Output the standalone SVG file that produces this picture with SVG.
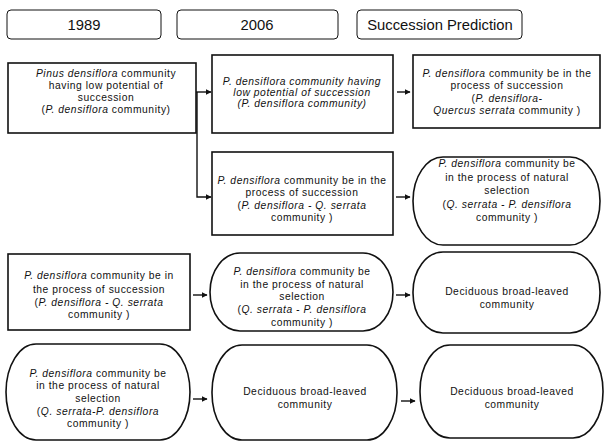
<svg xmlns="http://www.w3.org/2000/svg" width="606" height="443" viewBox="0 0 606 443">
<style>
.hdr{fill:#fff;stroke:#111;stroke-width:1}
.bx{fill:#fff;stroke:#111;stroke-width:1.6}
.ht{font-family:"Liberation Sans",Arial,sans-serif;font-size:14.8px;fill:#111;text-anchor:middle}
.t{font-family:"Liberation Sans",Arial,sans-serif;font-size:10.3px;letter-spacing:0.55px;fill:#111;text-anchor:middle}
.i{font-style:italic}
.c{fill:none;stroke:#111;stroke-width:1.4}
</style>
<defs>
<marker id="ah" viewBox="0 0 10 10" refX="9" refY="5" markerWidth="6" markerHeight="6" orient="auto" markerUnits="userSpaceOnUse">
<path d="M0,0 L10,5 L0,10 z" fill="#111"/>
</marker>
</defs>
<rect width="606" height="443" fill="#fff"/>

<g id="h1989"><rect class="hdr" x="7" y="10" width="154" height="29" rx="4"/><text class="ht" x="84" y="30">1989</text></g>
<g id="h2006"><rect class="hdr" x="177" y="10" width="161" height="29" rx="4"/><text class="ht" x="257" y="30">2006</text></g>
<g id="hpred"><rect class="hdr" x="357" y="10" width="165" height="29" rx="4"/><text class="ht" x="440" y="30">Succession Prediction</text></g>

<g id="connectors">
<line class="c" x1="196" y1="92" x2="211" y2="92" marker-end="url(#ah)"/>
<polyline class="c" points="197,92 197,197 211,197" marker-end="url(#ah)"/>
<line class="c" x1="397" y1="92" x2="410" y2="92" marker-end="url(#ah)"/>
<line class="c" x1="396" y1="197" x2="410" y2="197" marker-end="url(#ah)"/>
<line class="c" x1="193" y1="295" x2="207" y2="295" marker-end="url(#ah)"/>
<line class="c" x1="396" y1="295" x2="410" y2="295" marker-end="url(#ah)"/>
<line class="c" x1="193" y1="399" x2="207" y2="399" marker-end="url(#ah)"/>
<line class="c" x1="401" y1="401" x2="415" y2="401" marker-end="url(#ah)"/>
</g>

<g id="a1989">
<rect class="bx" x="8" y="63" width="188" height="70"/>
<text class="t" x="106" y="77"><tspan class="i">Pinus densiflora</tspan> community</text>
<text class="t" x="106" y="89">having low potential of</text>
<text class="t" x="106" y="101">succession</text>
<text class="t" x="106" y="113">(<tspan class="i">P. densiflora</tspan> community)</text>
</g>

<g id="b2006">
<rect class="bx" x="212" y="55" width="181" height="78"/>
<text class="t i" x="302" y="85">P. densiflora  community having</text>
<text class="t i" x="302" y="96">low potential of succession</text>
<text class="t i" x="302" y="107">(P. densiflora  community)</text>
</g>

<g id="cpred">
<rect class="bx" x="413" y="55" width="187" height="73"/>
<text class="t" x="507" y="77"><tspan class="i">P. densiflora</tspan> community be in the</text>
<text class="t" x="507" y="89">process of succession</text>
<text class="t" x="507" y="102">(<tspan class="i">P. densiflora-</tspan></text>
<text class="t" x="507" y="114"><tspan class="i">Quercus serrata</tspan> community )</text>
</g>

<g id="d2006">
<rect class="bx" x="212" y="152" width="181" height="83"/>
<text class="t" x="302" y="184"><tspan class="i">P. densiflora</tspan> community be in the</text>
<text class="t" x="302" y="196">process of succession</text>
<text class="t" x="302" y="209">(<tspan class="i">P. densiflora - Q. serrata</tspan></text>
<text class="t" x="302" y="221">community )</text>
</g>

<g id="epred">
<rect class="bx" x="413" y="157" width="187" height="88" rx="30" ry="44"/>
<text class="t" x="507" y="167"><tspan class="i">P. densiflora</tspan>  community be</text>
<text class="t" x="507" y="181">in the process of natural</text>
<text class="t" x="507" y="194">selection</text>
<text class="t" x="507" y="208">(<tspan class="i">Q. serrata - P. densiflora</tspan></text>
<text class="t" x="507" y="221">community )</text>
</g>

<g id="f1989">
<rect class="bx" x="8" y="254" width="182" height="76"/>
<text class="t" x="99" y="279"><tspan class="i">P. densiflora</tspan>  community be in</text>
<text class="t" x="99" y="293">the process of succession</text>
<text class="t" x="99" y="306">(<tspan class="i">P. densiflora - Q. serrata</tspan></text>
<text class="t" x="99" y="318">community )</text>
</g>

<g id="g2006">
<rect class="bx" x="210" y="253" width="183" height="78" rx="30" ry="39"/>
<text class="t" x="302" y="275"><tspan class="i">P. densiflora</tspan> community be</text>
<text class="t" x="302" y="288">in the process of natural</text>
<text class="t" x="302" y="300">selection</text>
<text class="t" x="302" y="313">(<tspan class="i">Q. serrata - P. densiflora</tspan></text>
<text class="t" x="302" y="326">community )</text>
</g>

<g id="hpred3">
<rect class="bx" x="413" y="252" width="187" height="81" rx="30" ry="40"/>
<text class="t" x="507" y="295">Deciduous broad-leaved</text>
<text class="t" x="507" y="308">community</text>
</g>

<g id="i1989">
<rect class="bx" x="6" y="344" width="184" height="96" rx="30" ry="48"/>
<text class="t" x="98" y="377"><tspan class="i">P. densiflora</tspan> community be</text>
<text class="t" x="98" y="389">in the process of natural</text>
<text class="t" x="98" y="402">selection</text>
<text class="t" x="98" y="415">(<tspan class="i">Q. serrata-P. densiflora</tspan></text>
<text class="t" x="98" y="427">community )</text>
</g>

<g id="j2006">
<rect class="bx" x="212" y="345" width="185" height="95" rx="30" ry="47"/>
<text class="t" x="305" y="395">Deciduous broad-leaved</text>
<text class="t" x="305" y="408">community</text>
</g>

<g id="kpred">
<rect class="bx" x="420" y="345" width="183" height="93" rx="30" ry="46"/>
<text class="t" x="512" y="395">Deciduous broad-leaved</text>
<text class="t" x="512" y="408">community</text>
</g>
</svg>
